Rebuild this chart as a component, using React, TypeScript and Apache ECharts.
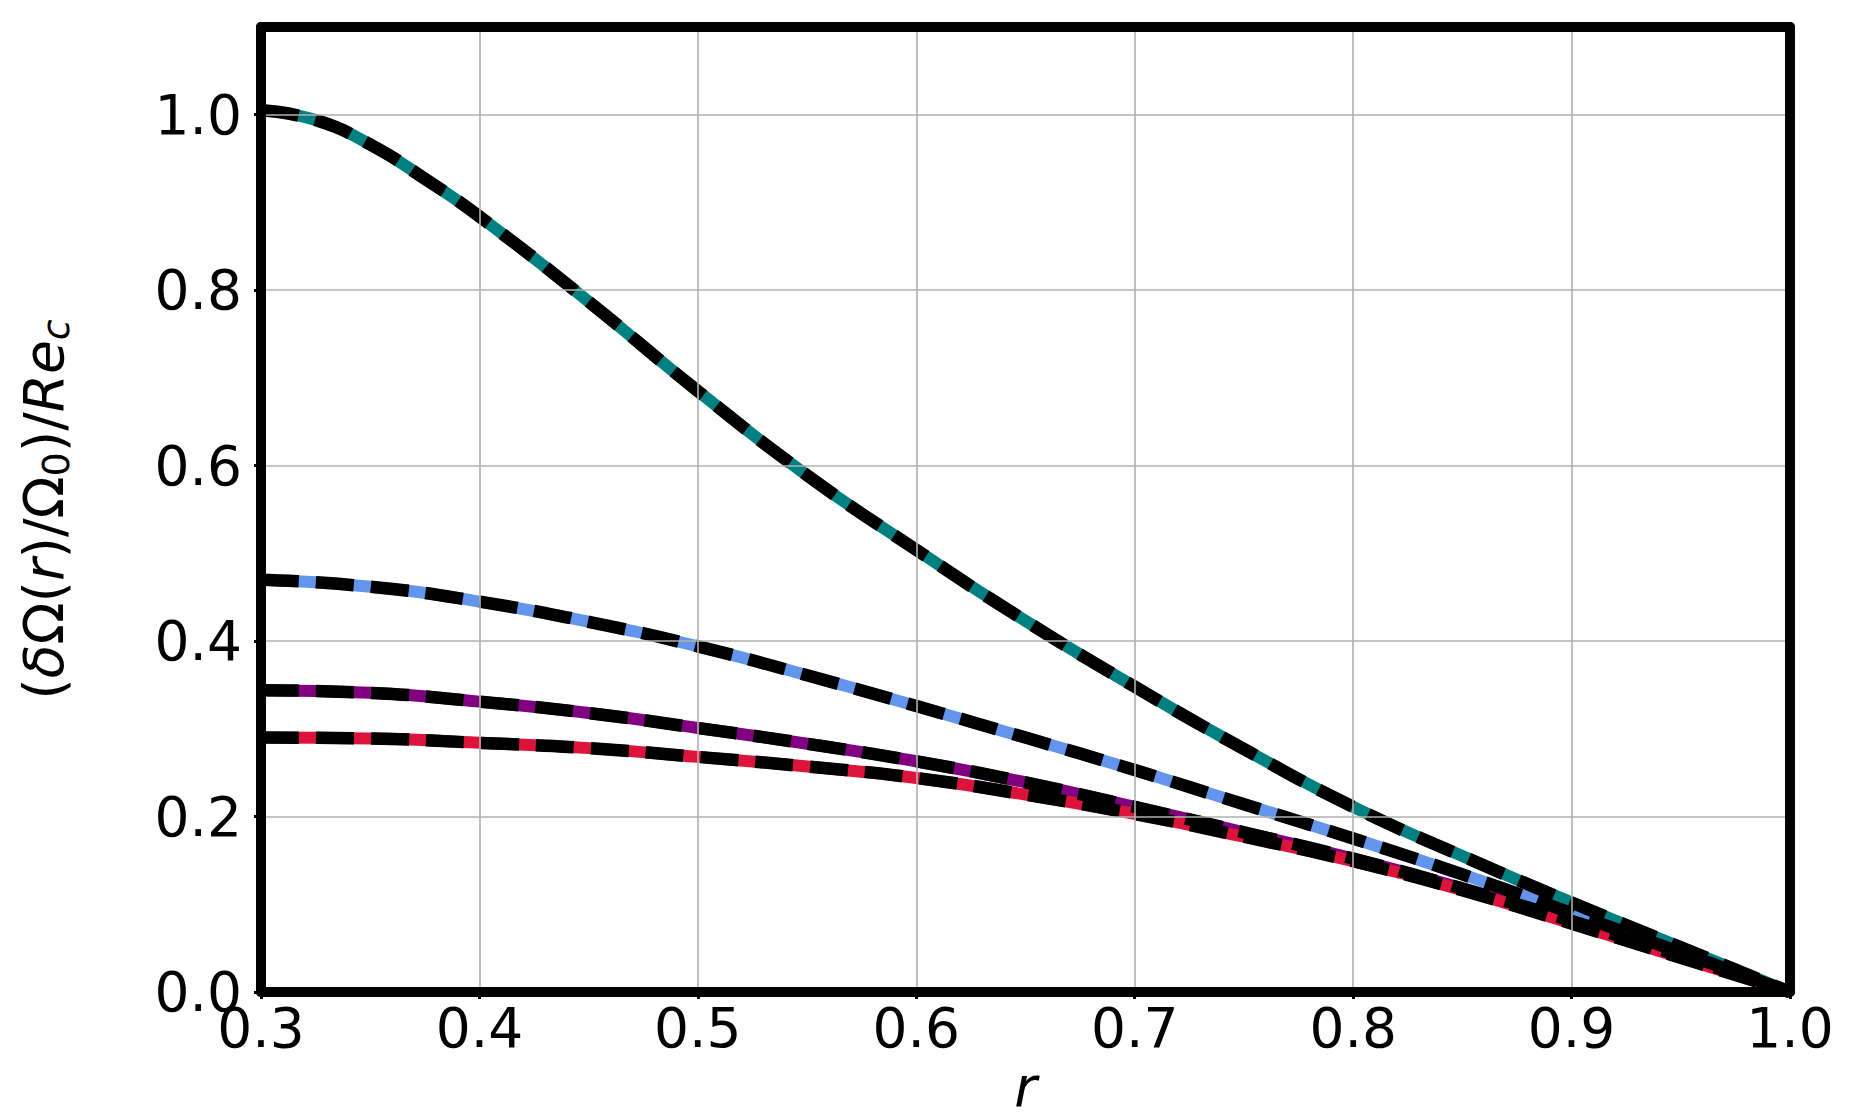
import React, { useEffect, useRef } from "react";
import * as echarts from "echarts";

const rTeal = [0.3, 0.325, 0.35, 0.375, 0.4, 0.45, 0.5, 0.55, 0.6, 0.65, 0.7, 0.75, 0.8, 0.85, 0.9, 0.95, 1.0];
const tealValues = [1.005, 0.994, 0.966, 0.927, 0.884, 0.787, 0.685, 0.589, 0.504, 0.423, 0.348, 0.277, 0.211, 0.155, 0.102, 0.051, 0.0];
const rValues = [0.3, 0.35, 0.4, 0.45, 0.5, 0.55, 0.6, 0.65, 0.7, 0.75, 0.8, 0.85, 0.9, 0.95, 1.0];
const blueValues = [0.47, 0.462, 0.445, 0.422, 0.394, 0.361, 0.326, 0.29, 0.253, 0.214, 0.175, 0.134, 0.09, 0.045, 0.0];
const purpleValues = [0.344, 0.341, 0.331, 0.318, 0.301, 0.283, 0.263, 0.239, 0.211, 0.182, 0.152, 0.118, 0.081, 0.041, 0.0];
const redValues = [0.29, 0.289, 0.284, 0.278, 0.268, 0.257, 0.244, 0.225, 0.203, 0.177, 0.149, 0.116, 0.078, 0.039, 0.0];
const seriesColors = ["#008080", "#6495ED", "#800080", "#DC143C"];
const xTicks = [0.3, 0.4, 0.5, 0.6, 0.7, 0.8, 0.9, 1.0];
const yTicks = [0.0, 0.2, 0.4, 0.6, 0.8, 1.0];

const FONT = "DejaVu Sans";

export default function App() {
  const ref = useRef<HTMLDivElement>(null);
  useEffect(() => {
    document.body.style.margin = "0";
    const chart = echarts.init(ref.current!, null, { renderer: "svg" });
    const curves: [number[], number[]][] = [
      [rTeal, tealValues],
      [rValues, blueValues],
      [rValues, purpleValues],
      [rValues, redValues],
    ];
    const pairs = (rs: number[], vals: number[]) => rs.map((r, i) => [r, vals[i]]);
    const series: any[] = [];
    curves.forEach(([rs, vals], k) => {
      series.push({
        type: "line",
        data: pairs(rs, vals),
        smooth: 0.5,
        showSymbol: false,
        symbol: "none",
        lineStyle: { color: seriesColors[k], width: 12, cap: "butt" },
        z: 3,
      });
    });
    curves.forEach(([rs, vals]) => {
      series.push({
        type: "line",
        data: pairs(rs, vals),
        smooth: 0.5,
        showSymbol: false,
        symbol: "none",
        lineStyle: { color: "#000", width: 12.5, type: [38, 17], cap: "butt" },
        z: 4,
      });
    });
    const frameLine = { show: true, onZero: false, lineStyle: { color: "#000", width: 10 } };
    chart.setOption({
      animation: false,
      backgroundColor: "#fff",
      grid: { left: 261, right: 65, top: 27, bottom: 128, show: false },
      xAxis: [
        {
          type: "value",
          min: 0.3,
          max: 1.0,
          interval: 0.1,
          name: "r",
          nameLocation: "middle",
          nameGap: 48,
          nameTextStyle: { fontFamily: FONT, fontSize: 55, fontStyle: "italic", color: "#000" },
          axisLine: frameLine,
          axisTick: { show: true, length: 7, lineStyle: { color: "#000", width: 3 } },
          axisLabel: {
            fontFamily: FONT,
            fontSize: 55,
            color: "#000",
            margin: 8,
            formatter: (v: number) => {
              const t = xTicks.find((x) => Math.abs(x - v) < 1e-6);
              return t !== undefined ? t.toFixed(1) : "";
            },
          },
          splitLine: { show: true, lineStyle: { color: "#b0b0b0", width: 1.6 } },
          z: 10,
        },
        {
          type: "value",
          position: "top",
          min: 0.3,
          max: 1.0,
          interval: 0.1,
          axisLine: frameLine,
          axisTick: { show: false },
          axisLabel: { show: false },
          splitLine: { show: false },
          z: 10,
        },
      ],
      yAxis: [
        {
          type: "value",
          min: 0,
          max: 1.1,
          interval: 0.2,
          name: "{p|(}{i|δ}{p|Ω(}{i|r}{p|)/Ω}{s|0}{p|)/}{i|Re}{si|c}",
          nameLocation: "middle",
          nameGap: 182,
          nameRotate: 90,
          nameTextStyle: {
            fontFamily: FONT,
            fontSize: 55,
            color: "#000",
            rich: {
              p: { fontFamily: FONT, fontSize: 55, color: "#000", lineHeight: 70 },
              i: { fontFamily: FONT, fontSize: 55, fontStyle: "italic", color: "#000", lineHeight: 70 },
              s: { fontFamily: FONT, fontSize: 38, color: "#000", lineHeight: 70, padding: [24, 0, 0, 0] },
              si: { fontFamily: FONT, fontSize: 38, fontStyle: "italic", color: "#000", lineHeight: 70, padding: [24, 0, 0, 0] },
            },
          },
          axisLine: frameLine,
          axisTick: { show: true, length: 7, lineStyle: { color: "#000", width: 3 } },
          axisLabel: {
            fontFamily: FONT,
            fontSize: 55,
            color: "#000",
            margin: 19,
            showMaxLabel: false,
            formatter: (v: number) => {
              const t = yTicks.find((y) => Math.abs(y - v) < 1e-6);
              return t !== undefined ? t.toFixed(1) : "";
            },
          },
          splitLine: { show: true, lineStyle: { color: "#b0b0b0", width: 1.6 } },
          z: 10,
        },
        {
          type: "value",
          position: "right",
          min: 0,
          max: 1.1,
          interval: 0.2,
          axisLine: frameLine,
          axisTick: { show: false },
          axisLabel: { show: false },
          splitLine: { show: false },
          z: 10,
        },
      ],
      series,
    });
    return () => chart.dispose();
  }, []);
  return <div ref={ref} style={{ width: 1855, height: 1120 }} />;
}
